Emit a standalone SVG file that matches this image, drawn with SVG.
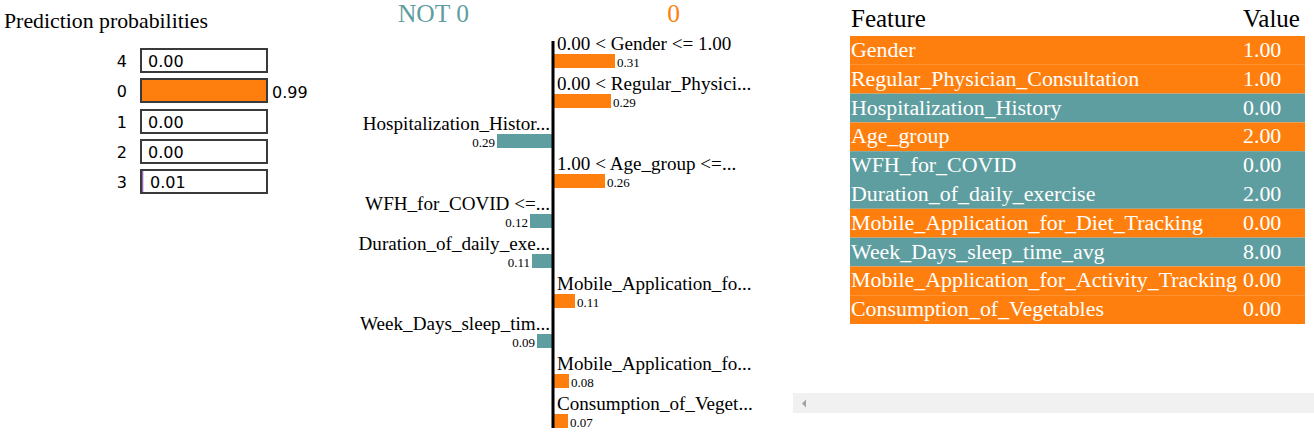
<svg xmlns="http://www.w3.org/2000/svg" width="1314" height="437" viewBox="0 0 1314 437">
<style>
.serif{font-family:"Liberation Serif","Times New Roman",serif;}
.sans{font-family:"DejaVu Sans",Verdana,sans-serif;font-size:16px;fill:#000;}
.box{fill:#fff;stroke:#3a3a3a;stroke-width:2;}
.lbl{font-family:"Liberation Serif","Times New Roman",serif;font-size:19.1px;fill:#000;}
.val{font-family:"Liberation Serif","Times New Roman",serif;font-size:13px;fill:#000;}
.pos{fill:#ff7f0e;}
.neg{fill:#5f9ea0;}
.row{font-family:"Liberation Serif","Times New Roman",serif;font-size:21.9px;fill:#fff;}
.title{font-family:"Liberation Serif","Times New Roman",serif;font-size:21.8px;fill:#000;}
.cls{font-family:"Liberation Serif","Times New Roman",serif;font-size:25.5px;}
.hdr{font-family:"Liberation Serif","Times New Roman",serif;font-size:25px;fill:#000;}
</style>
<rect width="1314" height="437" fill="#fff"/>

<g id="probabilities">
<text class="title" x="4" y="28">Prediction probabilities</text>
<g id="prob-4"><text class="sans" x="127" y="67" text-anchor="end">4</text><rect class="box" x="141" y="49" width="126" height="23"/><text class="sans" x="148" y="67">0.00</text></g>
<g id="prob-0"><text class="sans" x="127" y="97" text-anchor="end">0</text><rect class="box" x="141" y="79" width="126" height="23" style="fill:#ff7f0e"/><text class="sans" x="272" y="98">0.99</text></g>
<g id="prob-1"><text class="sans" x="127" y="128" text-anchor="end">1</text><rect class="box" x="141" y="110" width="126" height="23"/><text class="sans" x="148" y="128">0.00</text></g>
<g id="prob-2"><text class="sans" x="127" y="158" text-anchor="end">2</text><rect class="box" x="141" y="140" width="126" height="23"/><text class="sans" x="148" y="158">0.00</text></g>
<g id="prob-3"><text class="sans" x="127" y="188" text-anchor="end">3</text><rect class="box" x="141" y="170" width="126" height="23"/><rect x="142" y="171" width="1.3" height="21" fill="#9467bd"/><text class="sans" x="150" y="188">0.01</text></g>
</g>

<g id="explanation">
<text class="cls" x="433.5" y="22" fill="#5f9ea0" text-anchor="middle">NOT 0</text>
<text class="cls" x="673.5" y="22" fill="#ff7f0e" text-anchor="middle">0</text>

<g id="f-gender"><text class="lbl" x="557" y="50">0.00 &lt; Gender &lt;= 1.00</text><rect class="pos" x="553" y="54" width="62" height="14"/><text class="val" x="617" y="67">0.31</text></g>
<g id="f-regular"><text class="lbl" x="557" y="90">0.00 &lt; Regular_Physici...</text><rect class="pos" x="553" y="94" width="58" height="14"/><text class="val" x="613" y="107">0.29</text></g>
<g id="f-hosp"><text class="lbl" x="550" y="130" text-anchor="end">Hospitalization_Histor...</text><rect class="neg" x="497" y="134" width="56" height="14"/><text class="val" x="495" y="147" text-anchor="end">0.29</text></g>
<g id="f-age"><text class="lbl" x="557" y="170">1.00 &lt; Age_group &lt;=...</text><rect class="pos" x="553" y="174" width="52" height="14"/><text class="val" x="607" y="187">0.26</text></g>
<g id="f-wfh"><text class="lbl" x="550" y="210" text-anchor="end">WFH_for_COVID &lt;=...</text><rect class="neg" x="530" y="214" width="23" height="14"/><text class="val" x="528" y="227" text-anchor="end">0.12</text></g>
<g id="f-duration"><text class="lbl" x="550" y="250" text-anchor="end">Duration_of_daily_exe...</text><rect class="neg" x="532" y="254" width="21" height="14"/><text class="val" x="530" y="267" text-anchor="end">0.11</text></g>
<g id="f-mobile-diet"><text class="lbl" x="557" y="290">Mobile_Application_fo...</text><rect class="pos" x="553" y="294" width="22" height="14"/><text class="val" x="577" y="307">0.11</text></g>
<g id="f-week"><text class="lbl" x="550" y="330" text-anchor="end">Week_Days_sleep_tim...</text><rect class="neg" x="537" y="334" width="16" height="14"/><text class="val" x="535" y="347" text-anchor="end">0.09</text></g>
<g id="f-mobile-act"><text class="lbl" x="557" y="370">Mobile_Application_fo...</text><rect class="pos" x="553" y="374" width="16" height="14"/><text class="val" x="571" y="387">0.08</text></g>
<g id="f-veg"><text class="lbl" x="557" y="410">Consumption_of_Veget...</text><rect class="pos" x="553" y="414" width="15" height="14"/><text class="val" x="570" y="427">0.07</text></g>

<line id="axis" x1="553" y1="41" x2="553" y2="428" stroke="#000" stroke-width="3"/>
</g>

<g id="table">
<text class="hdr" x="851" y="27">Feature</text>
<text class="hdr" x="1243" y="27">Value</text>
<rect class="pos" x="850" y="36" width="455" height="28.8"/>
<rect class="pos" x="850" y="64.8" width="455" height="28.8"/>
<rect class="neg" x="850" y="93.6" width="455" height="28.8"/>
<rect class="pos" x="850" y="122.4" width="455" height="28.8"/>
<rect class="neg" x="850" y="151.2" width="455" height="28.8"/>
<rect class="neg" x="850" y="180" width="455" height="28.8"/>
<rect class="pos" x="850" y="208.8" width="455" height="28.8"/>
<rect class="neg" x="850" y="237.6" width="455" height="28.8"/>
<rect class="pos" x="850" y="266.4" width="455" height="28.8"/>
<rect class="pos" x="850" y="295.2" width="455" height="28.8"/>
<text class="row" x="851" y="57">Gender</text><text class="row" x="1243" y="57">1.00</text>
<text class="row" x="851" y="86">Regular_Physician_Consultation</text><text class="row" x="1243" y="86">1.00</text>
<text class="row" x="851" y="115">Hospitalization_History</text><text class="row" x="1243" y="115">0.00</text>
<text class="row" x="851" y="143">Age_group</text><text class="row" x="1243" y="143">2.00</text>
<text class="row" x="851" y="172">WFH_for_COVID</text><text class="row" x="1243" y="172">0.00</text>
<text class="row" x="851" y="201">Duration_of_daily_exercise</text><text class="row" x="1243" y="201">2.00</text>
<text class="row" x="851" y="230">Mobile_Application_for_Diet_Tracking</text><text class="row" x="1243" y="230">0.00</text>
<text class="row" x="851" y="259">Week_Days_sleep_time_avg</text><text class="row" x="1243" y="259">8.00</text>
<text class="row" x="851" y="287">Mobile_Application_for_Activity_Tracking</text><text class="row" x="1243" y="287">0.00</text>
<text class="row" x="851" y="316">Consumption_of_Vegetables</text><text class="row" x="1243" y="316">0.00</text>
</g>

<g id="scrollbar">
<rect x="793" y="393" width="521" height="20" fill="#f1f1f1"/>
<polygon points="802,403.5 806,399.5 806,407.5" fill="#a3a3a3"/>
</g>
</svg>
